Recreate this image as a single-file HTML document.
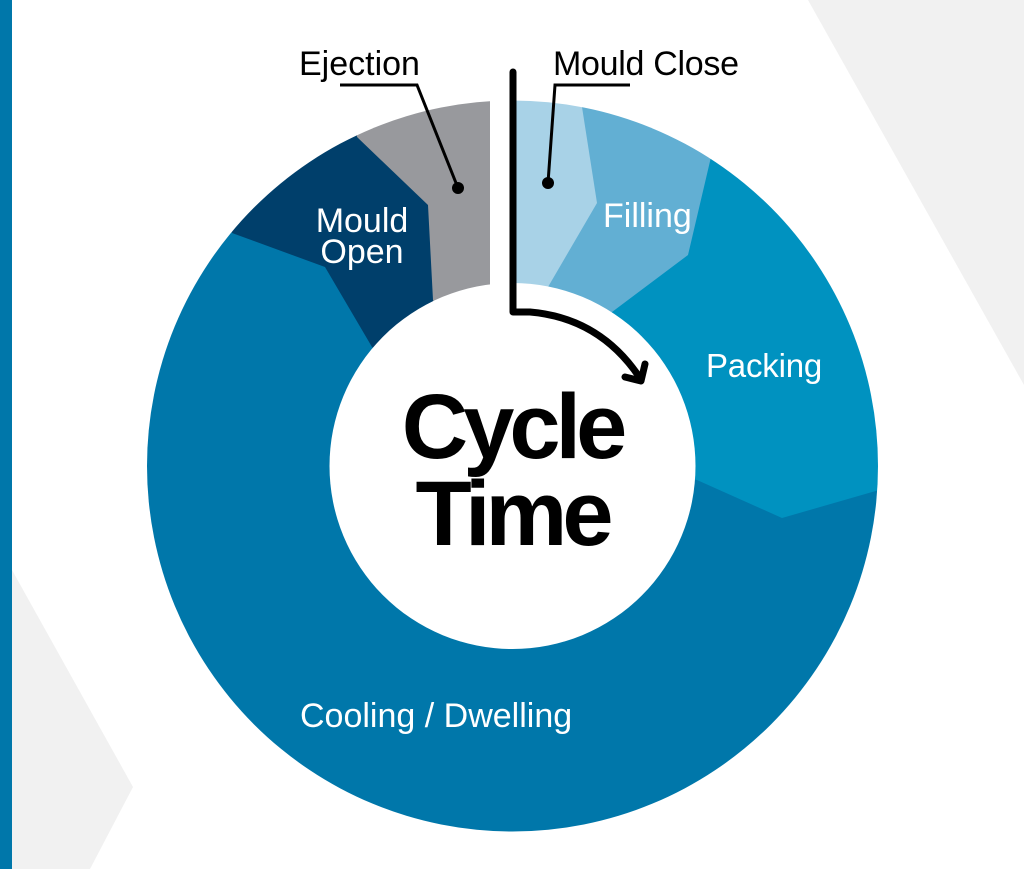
<!DOCTYPE html>
<html><head><style>
body{margin:0;width:1024px;height:869px;overflow:hidden;background:#fff}
svg{display:block}
text{font-family:"Liberation Sans",Arial,sans-serif}
</style></head><body>
<svg width="1024" height="869" viewBox="0 0 1024 869">
<defs>
<mask id="m">
<rect width="1024" height="869" fill="#000"/>
<circle cx="512.5" cy="466" r="365.5" fill="#fff"/>
<circle cx="512.5" cy="466" r="183" fill="#000"/>
<rect x="490" y="80" width="26" height="220" fill="#000"/>
</mask>
</defs>
<polygon points="808,0 1024,0 1024,385" fill="#f1f1f1"/>
<polygon points="12,570 133,787 90,869 12,869" fill="#f1f1f1"/>
<rect x="0" y="0" width="12" height="869" fill="#0077aa"/>
<g mask="url(#m)">
<rect width="1024" height="869" fill="#0077aa"/>
<polygon points="512,466 697,480 782,518 900,484 900,0 512,0" fill="#0092c0"/>
<polygon points="512,466 612,312 688,255 715,140 700,0 512,0" fill="#62afd3"/>
<polygon points="512,466 548,287 597,203 582,107 590,0 512,0" fill="#a8d2e7"/>
<polygon points="512,466 372,347 325,267 232,233 200,0 512,0" fill="#003f6b"/>
<polygon points="512,466 433,300 428,205 357,137 340,0 512,0" fill="#98999d"/>
</g>
<path d="M513,72 V312 H530 Q600,318 640,378" fill="none" stroke="#000" stroke-width="7" stroke-linecap="round" stroke-linejoin="round"/>
<path d="M625,377 L641,381 L645,364" fill="none" stroke="#000" stroke-width="7" stroke-linecap="round" stroke-linejoin="round"/>
<path d="M340,85 H417 L458,188" fill="none" stroke="#000" stroke-width="3"/>
<circle cx="458" cy="188" r="6" fill="#000"/>
<path d="M630,85 H555 L548,183" fill="none" stroke="#000" stroke-width="3"/>
<circle cx="548" cy="183" r="6" fill="#000"/>
<text x="299" y="75" font-size="34" fill="#000">Ejection</text>
<text x="553" y="75" font-size="34" fill="#000" letter-spacing="-0.3">Mould Close</text>
<text x="603" y="227" font-size="34" fill="#fff">Filling</text>
<text x="362" y="232" font-size="34" fill="#fff" text-anchor="middle">Mould</text>
<text x="362" y="263" font-size="34" fill="#fff" text-anchor="middle">Open</text>
<text x="706" y="377" font-size="33" fill="#fff" letter-spacing="-0.2">Packing</text>
<text x="300" y="727" font-size="34" fill="#fff">Cooling / Dwelling</text>
<text x="512" y="458" font-size="92" font-weight="bold" fill="#000" text-anchor="middle" letter-spacing="-5">Cycle</text>
<text x="512" y="545" font-size="92" font-weight="bold" fill="#000" text-anchor="middle" letter-spacing="-5">Time</text>
</svg>
</body></html>
